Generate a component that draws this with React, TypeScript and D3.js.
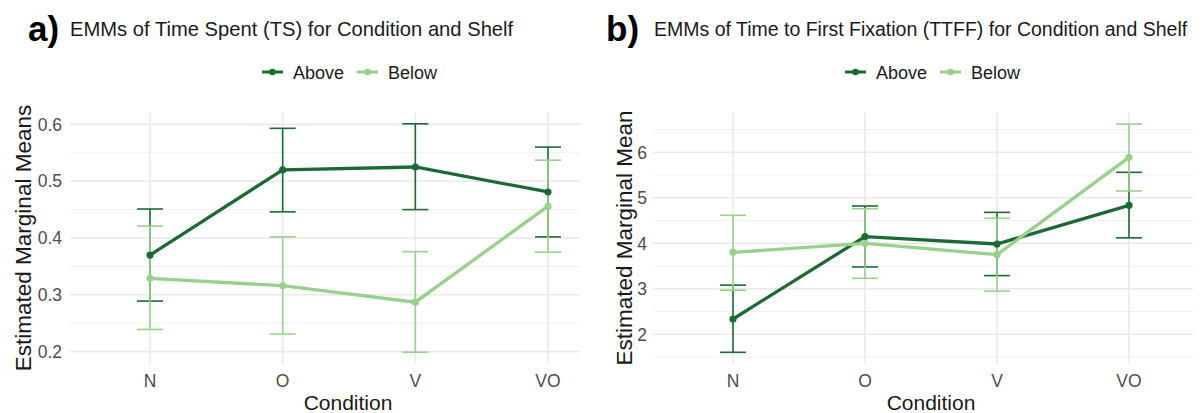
import React from "react";
import * as d3 from "d3";

const conditions = ["N", "O", "V", "VO"];
const shelves = ["Above", "Below"];

// Panel a: Time Spent
const tsAbove = [0.370, 0.520, 0.525, 0.481];
const tsAboveLo = [0.289, 0.446, 0.450, 0.402];
const tsAboveHi = [0.451, 0.593, 0.601, 0.560];
const tsBelow = [0.329, 0.316, 0.287, 0.456];
const tsBelowLo = [0.239, 0.231, 0.199, 0.375];
const tsBelowHi = [0.421, 0.402, 0.376, 0.537];
const tsTicks = [0.2, 0.3, 0.4, 0.5, 0.6];
const tsMinor = [0.25, 0.35, 0.45, 0.55];

// Panel b: Time to First Fixation
const ttffAbove = [2.336, 4.147, 3.985, 4.835];
const ttffAboveLo = [1.604, 3.48, 3.29, 4.12];
const ttffAboveHi = [3.08, 4.82, 4.68, 5.56];
const ttffBelow = [3.80, 4.00, 3.75, 5.89];
const ttffBelowLo = [2.97, 3.23, 2.95, 5.15];
const ttffBelowHi = [4.615, 4.76, 4.55, 6.62];
const ttffTicks = [2, 3, 4, 5, 6];
const ttffMinor = [1.5, 2.5, 3.5, 4.5, 5.5, 6.5];

const DARK = "#1b6a34";
const LIGHT = "#98d18b";
const FONT = "'Liberation Sans', Arial, sans-serif";

type Series = { name: string; color: string; mean: number[]; lo: number[]; hi: number[] };

type PanelProps = {
  letter: string;
  title: string;
  titleSize: number;
  letterX: number;
  titleX: number;
  panelLeft: number;
  panelRight: number;
  xRange: [number, number];
  yDomain: [number, number];
  ticks: number[];
  minor: number[];
  tickFmt: (v: number) => string;
  yTitle: string;
  yTitleX: number;
  tickLabelX: number;
  xTitleX: number;
  legendX: number;
  series: Series[];
};

function Panel(p: PanelProps) {
  const top = 113;
  const bottom = 363;
  const x = d3.scalePoint<string>().domain(conditions).range(p.xRange);
  const y = d3.scaleLinear().domain(p.yDomain).range([bottom, top]);
  const line = d3
    .line<number>()
    .x((_, i) => x(conditions[i]) as number)
    .y((d) => y(d));
  const cap = 13;
  return (
    <g>
      {p.minor.map((v) => (
        <line key={"mn" + v} x1={p.panelLeft} x2={p.panelRight} y1={y(v)} y2={y(v)} stroke="#f0f0f0" strokeWidth={1} />
      ))}
      {p.ticks.map((v) => (
        <line key={"mj" + v} x1={p.panelLeft} x2={p.panelRight} y1={y(v)} y2={y(v)} stroke="#e9e9e9" strokeWidth={1.6} />
      ))}
      {conditions.map((c) => (
        <line key={"vg" + c} x1={x(c)} x2={x(c)} y1={top} y2={bottom} stroke="#e9e9e9" strokeWidth={1.6} />
      ))}
      {p.ticks.map((v) => (
        <text key={"tl" + v} x={p.tickLabelX} y={y(v)} dy="0.36em" textAnchor="end" fontSize={17.5} fill="#4d4d4d" fontFamily={FONT}>
          {p.tickFmt(v)}
        </text>
      ))}
      {conditions.map((c) => (
        <text key={"xl" + c} x={x(c)} y={387} textAnchor="middle" fontSize={17.5} fill="#4d4d4d" fontFamily={FONT}>
          {c}
        </text>
      ))}
      <text x={p.xTitleX} y={410} textAnchor="middle" fontSize={21} fill="#1a1a1a" fontFamily={FONT}>
        Condition
      </text>
      <text
        transform={`translate(${p.yTitleX},238) rotate(-90)`}
        textAnchor="middle"
        fontSize={22.5}
        fill="#1a1a1a"
        fontFamily={FONT}
      >
        {p.yTitle}
      </text>
      <text x={p.letterX} y={41} fontSize={35} fontWeight="bold" fill="#000" fontFamily={FONT}>
        {p.letter}
      </text>
      <text x={p.titleX} y={36} fontSize={p.titleSize} fill="#1a1a1a" fontFamily={FONT}>
        {p.title}
      </text>
      {p.series.map((s, i) => {
        const lx = p.legendX + i * 95;
        return (
          <g key={"lg" + s.name}>
            <line x1={lx} x2={lx + 21} y1={72} y2={72} stroke={s.color} strokeWidth={3} />
            <circle cx={lx + 10.5} cy={72} r={3.3} fill={s.color} />
            <text x={lx + 31} y={78.5} fontSize={18} fill="#1a1a1a" fontFamily={FONT}>
              {s.name}
            </text>
          </g>
        );
      })}
      {p.series.map((s) =>
        conditions.map((c, i) => {
          const cx = x(c) as number;
          return (
            <g key={"eb" + s.name + c} stroke={s.color} strokeWidth={1.6} fill="none">
              <line x1={cx} x2={cx} y1={y(s.lo[i])} y2={y(s.hi[i])} />
              <line x1={cx - cap} x2={cx + cap} y1={y(s.lo[i])} y2={y(s.lo[i])} />
              <line x1={cx - cap} x2={cx + cap} y1={y(s.hi[i])} y2={y(s.hi[i])} />
            </g>
          );
        })
      )}
      {p.series.map((s) => (
        <g key={"ln" + s.name}>
          <path d={line(s.mean) || ""} fill="none" stroke={s.color} strokeWidth={3.3} />
          {s.mean.map((v, i) => (
            <circle key={i} cx={x(conditions[i])} cy={y(v)} r={3.6} fill={s.color} />
          ))}
        </g>
      ))}
    </g>
  );
}

export default function App() {
  const seriesA: Series[] = [
    { name: shelves[0], color: DARK, mean: tsAbove, lo: tsAboveLo, hi: tsAboveHi },
    { name: shelves[1], color: LIGHT, mean: tsBelow, lo: tsBelowLo, hi: tsBelowHi },
  ];
  const seriesB: Series[] = [
    { name: shelves[0], color: DARK, mean: ttffAbove, lo: ttffAboveLo, hi: ttffAboveHi },
    { name: shelves[1], color: LIGHT, mean: ttffBelow, lo: ttffBelowLo, hi: ttffBelowHi },
  ];
  return (
    <svg
      width={1204}
      height={413}
      style={{ position: "absolute", left: 0, top: 0, background: "#fff" }}
    >
      <rect width={1204} height={413} fill="#fff" />
      <Panel
        letter="a)"
        title="EMMs of Time Spent (TS) for Condition and Shelf"
        titleSize={20.2}
        letterX={28}
        titleX={70}
        panelLeft={70}
        panelRight={580}
        xRange={[150, 548]}
        yDomain={[0.18, 0.62]}
        ticks={tsTicks}
        minor={tsMinor}
        tickFmt={d3.format(".1f")}
        yTitle="Estimated Marginal Means"
        yTitleX={31}
        tickLabelX={62}
        xTitleX={348}
        legendX={262}
        series={seriesA}
      />
      <Panel
        letter="b)"
        title="EMMs of Time to First Fixation (TTFF) for Condition and Shelf"
        titleSize={19.5}
        letterX={606}
        titleX={654}
        panelLeft={653}
        panelRight={1193}
        xRange={[733, 1129]}
        yDomain={[1.369, 6.864]}
        ticks={ttffTicks}
        minor={ttffMinor}
        tickFmt={d3.format("d")}
        yTitle="Estimated Marginal Mean"
        yTitleX={632}
        tickLabelX={647}
        xTitleX={931}
        legendX={845}
        series={seriesB}
      />
    </svg>
  );
}
